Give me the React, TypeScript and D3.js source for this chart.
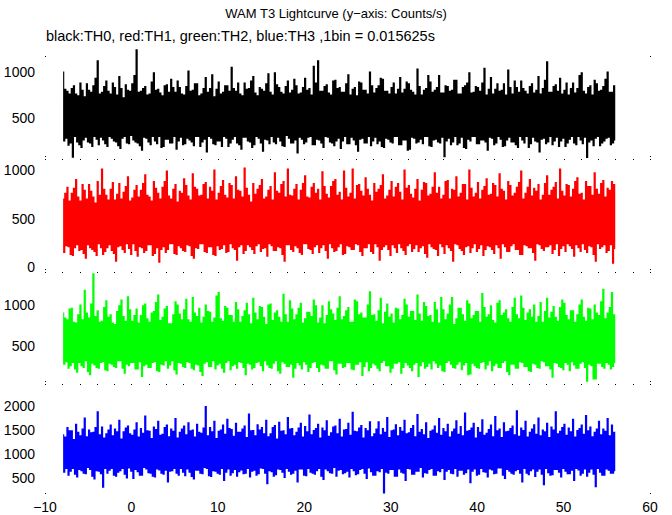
import React from 'react';
import * as d3 from 'd3';

const W = 672;
const H = 515;
const titleText = 'WAM T3 Lightcurve (y\u2212axis: Counts/s)';
const subtitleText = 'black:TH0, red:TH1, green:TH2, blue:TH3 ,1bin = 0.015625s';

// time of first displayed sample (s) and spacing of displayed samples (s)
const T0 = -7.9;
const DT = 0.125;

const xTicks = [-10, 0, 10, 20, 30, 40, 50, 60];
const xMinorStep = 2;

// Counts/s, alternating upper / lower excursions
const th0 = [
  1000, 250, 810, 280, 790, 205, 760, 230, 820, 75, 850, 300, 760, 240, 740, 210,
  880, 180, 800, 260, 730, 290, 870, 240, 800, 230, 780, 190, 850, 300, 930, 270,
  1120, 210, 760, 290, 780, 260, 840, 220, 900, 190, 790, 300, 760, 280, 880, 250,
  830, 240, 750, 200, 950, 170, 820, 280, 720, 300, 860, 230, 800, 220, 790, 310,
  870, 260, 960, 240, 1240, 230, 780, 200, 790, 150, 820, 290, 840, 280, 750, 240,
  760, 210, 890, 300, 990, 250, 800, 220, 810, 300, 770, 180, 740, 190, 850, 270,
  860, 270, 780, 230, 920, 230, 830, 300, 780, 160, 900, 250, 830, 290, 760, 210,
  750, 220, 840, 280, 1010, 260, 790, 240, 800, 200, 870, 300, 870, 300, 740, 190,
  760, 240, 820, 270, 940, 130, 780, 300, 820, 280, 970, 220, 730, 210, 810, 250,
  890, 250, 760, 190, 780, 300, 850, 280, 850, 190, 790, 230, 1050, 270, 820, 300,
  790, 230, 880, 210, 760, 160, 740, 290, 880, 290, 810, 250, 820, 240, 900, 180,
  950, 210, 770, 300, 740, 280, 830, 230, 810, 140, 790, 270, 870, 260, 980, 220,
  780, 300, 750, 240, 990, 220, 860, 290, 830, 250, 780, 200, 760, 190, 840, 310,
  900, 280, 770, 230, 800, 230, 920, 260, 850, 120, 760, 290, 770, 270, 830, 220,
  930, 240, 800, 290, 820, 300, 750, 210, 1060, 210, 880, 270, 1120, 260, 790, 230,
  790, 180, 840, 300, 860, 290, 770, 240, 750, 230, 900, 200, 910, 250, 820, 280,
  830, 170, 780, 250, 780, 300, 870, 220, 970, 220, 750, 290, 810, 260, 830, 210,
  740, 140, 890, 270, 880, 280, 800, 230, 800, 230, 760, 300, 1000, 200, 850, 250,
  770, 290, 820, 220, 850, 250, 930, 190, 920, 180, 790, 280, 790, 270, 760, 240,
  830, 230, 880, 300, 760, 300, 810, 210, 940, 210, 770, 260, 810, 260, 890, 150,
  870, 160, 800, 290, 780, 280, 750, 230, 1030, 240, 840, 270, 750, 220, 800, 300,
  820, 300, 960, 200, 890, 190, 780, 260, 800, 270, 830, 240, 960, 230, 770, 290,
  770, 80, 850, 250, 840, 280, 790, 210, 800, 240, 910, 300, 910, 210, 760, 230,
  760, 290, 830, 180, 850, 170, 880, 270, 990, 250, 770, 300, 780, 300, 840, 220,
  830, 220, 790, 260, 880, 260, 1040, 240, 750, 150, 810, 290, 940, 280, 760, 210,
  810, 230, 870, 300, 790, 270, 800, 190, 870, 200, 750, 260, 1020, 290, 830, 240,
  760, 240, 900, 210, 830, 180, 780, 300, 900, 260, 820, 230, 790, 300, 760, 180,
  840, 220, 870, 290, 770, 250, 800, 240, 950, 130, 760, 270, 820, 280, 910, 220,
  1110, 240, 780, 300, 780, 210, 840, 250, 860, 290, 790, 190, 930, 250, 760, 280,
  800, 190, 880, 230, 750, 270, 820, 300, 880, 230, 770, 210, 820, 300, 960, 260,
  990, 220, 790, 290, 760, 70, 830, 240, 850, 260, 750, 200, 910, 280, 870, 300,
  790, 200, 800, 230, 840, 250, 920, 280, 1000, 290, 780, 210, 780, 230, 850, 260,
];

const th1 = [
  700, 150, 760, 220, 820, 210, 680, 130, 760, 120, 810, 200, 900, 230, 720, 170,
  680, 180, 850, 140, 790, 90, 700, 230, 850, 200, 780, 180, 720, 160, 660, 120,
  880, 240, 740, 200, 1010, 130, 800, 160, 740, 200, 690, 230, 800, 170, 870, 140,
  690, 60, 750, 210, 860, 220, 700, 180, 770, 150, 830, 240, 930, 190, 680, 130,
  710, 240, 790, 170, 840, 110, 720, 210, 790, 200, 860, 150, 950, 170, 740, 230,
  720, 230, 680, 120, 880, 140, 810, 200, 760, 50, 700, 180, 820, 210, 880, 150,
  990, 180, 730, 240, 700, 240, 800, 140, 850, 130, 670, 220, 780, 200, 760, 170,
  910, 160, 840, 230, 730, 220, 690, 120, 960, 90, 820, 200, 800, 190, 730, 240,
  740, 240, 850, 160, 870, 150, 700, 210, 820, 210, 780, 130, 1000, 120, 690, 220,
  760, 180, 830, 190, 890, 230, 740, 150, 710, 160, 860, 240, 840, 200, 700, 180,
  930, 70, 790, 210, 780, 230, 720, 140, 1020, 170, 810, 230, 740, 210, 670, 180,
  860, 140, 750, 220, 800, 240, 840, 160, 900, 190, 700, 200, 720, 110, 790, 240,
  830, 220, 690, 170, 970, 170, 780, 210, 760, 200, 850, 130, 880, 60, 720, 230,
  1010, 230, 740, 180, 730, 160, 800, 220, 850, 200, 690, 150, 790, 130, 860, 240,
  940, 240, 720, 190, 710, 180, 820, 140, 860, 210, 760, 230, 800, 150, 690, 200,
  980, 230, 830, 170, 750, 90, 710, 240, 830, 200, 880, 160, 900, 170, 740, 210,
  770, 240, 690, 130, 990, 140, 810, 220, 720, 210, 760, 180, 1010, 180, 700, 240,
  840, 230, 850, 160, 780, 120, 730, 200, 920, 200, 800, 240, 740, 160, 680, 140,
  860, 240, 770, 210, 800, 70, 840, 180, 950, 210, 700, 230, 730, 180, 790, 120,
  880, 230, 720, 200, 820, 150, 860, 240, 770, 200, 690, 170, 1000, 130, 810, 220,
  840, 240, 750, 160, 710, 190, 800, 230, 900, 160, 680, 200, 790, 220, 870, 140,
  860, 100, 730, 240, 750, 210, 820, 190, 970, 180, 760, 120, 820, 240, 700, 210,
  740, 140, 880, 230, 890, 200, 700, 170, 800, 60, 790, 240, 930, 230, 720, 190,
  760, 170, 850, 130, 850, 210, 690, 220, 1000, 150, 810, 200, 720, 240, 760, 160,
  870, 190, 700, 230, 790, 120, 830, 180, 910, 220, 740, 210, 750, 180, 860, 140,
  840, 230, 720, 200, 960, 90, 800, 240, 780, 210, 690, 160, 880, 160, 840, 220,
  730, 240, 760, 180, 820, 180, 870, 130, 990, 130, 700, 230, 760, 220, 820, 200,
  900, 200, 730, 150, 810, 70, 780, 240, 850, 230, 690, 190, 740, 170, 860, 210,
  940, 210, 740, 230, 790, 140, 820, 180, 870, 240, 700, 120, 1010, 190, 780, 220,
  730, 160, 850, 240, 840, 220, 720, 190, 800, 110, 880, 230, 920, 200, 750, 160,
  760, 240, 690, 180, 880, 150, 830, 220, 830, 210, 740, 130, 970, 60, 800, 240,
  750, 190, 860, 210, 890, 230, 720, 150, 810, 170, 790, 230, 880, 40, 850, 190,
];

const th2 = [
  900, 280, 840, 310, 820, 230, 950, 260, 960, 300, 790, 220, 780, 180, 880, 300,
  1000, 260, 820, 240, 1180, 320, 900, 190, 840, 150, 1010, 290, 1380, 270, 860, 240,
  930, 230, 790, 300, 800, 310, 970, 210, 1050, 200, 850, 290, 880, 280, 780, 250,
  760, 240, 920, 320, 990, 320, 1060, 230, 860, 170, 800, 280, 1100, 260, 940, 300,
  800, 300, 870, 220, 950, 220, 780, 310, 870, 130, 990, 260, 1010, 280, 830, 240,
  790, 240, 900, 300, 920, 310, 1030, 200, 1120, 190, 810, 280, 850, 270, 950, 320,
  980, 230, 770, 270, 770, 320, 880, 210, 1040, 160, 1000, 300, 890, 290, 820, 250,
  940, 240, 1070, 310, 820, 300, 790, 230, 1090, 210, 900, 280, 860, 270, 960, 190,
  780, 140, 850, 290, 1000, 310, 920, 250, 910, 250, 790, 320, 840, 220, 1110, 270,
  1150, 290, 830, 230, 800, 180, 980, 300, 960, 320, 870, 210, 870, 260, 790, 280,
  1030, 230, 940, 310, 790, 300, 860, 240, 930, 150, 1020, 290, 880, 280, 770, 220,
  1080, 240, 900, 300, 820, 310, 980, 260, 970, 200, 850, 320, 760, 270, 1000, 240,
  1010, 230, 810, 290, 900, 320, 930, 200, 850, 170, 790, 310, 1130, 290, 880, 250,
  790, 250, 1050, 280, 950, 120, 820, 230, 880, 300, 960, 270, 1020, 220, 780, 310,
  830, 280, 910, 190, 910, 240, 860, 300, 1060, 310, 990, 240, 780, 190, 840, 280,
  990, 270, 770, 230, 870, 230, 1040, 320, 940, 320, 890, 210, 810, 160, 960, 290,
  1100, 290, 820, 240, 860, 250, 930, 300, 970, 300, 790, 220, 790, 210, 1060, 280,
  1040, 280, 880, 310, 900, 140, 840, 250, 840, 310, 1000, 200, 1160, 240, 870, 290,
  880, 270, 800, 230, 930, 200, 1080, 300, 770, 320, 910, 260, 1010, 260, 850, 180,
  890, 230, 780, 290, 960, 290, 950, 310, 820, 170, 870, 240, 1070, 300, 1000, 270,
  850, 240, 920, 200, 920, 280, 810, 300, 1120, 130, 890, 260, 800, 310, 1030, 230,
  980, 250, 860, 290, 870, 220, 790, 320, 1030, 290, 940, 240, 780, 270, 1090, 200,
  940, 190, 820, 300, 890, 320, 1000, 280, 1090, 240, 760, 230, 830, 280, 960, 310,
  960, 210, 880, 270, 800, 300, 1050, 150, 1010, 160, 830, 290, 870, 260, 920, 240,
  920, 230, 790, 300, 1140, 310, 970, 220, 850, 270, 880, 320, 990, 200, 810, 260,
  780, 290, 1020, 240, 1050, 240, 870, 300, 900, 320, 940, 190, 830, 150, 790, 280,
  970, 280, 1080, 230, 880, 230, 830, 310, 1110, 300, 960, 250, 810, 250, 900, 200,
  940, 190, 850, 290, 1000, 280, 790, 240, 860, 230, 1030, 320, 790, 310, 920, 260,
  1080, 260, 840, 220, 910, 120, 980, 300, 850, 290, 800, 250, 970, 240, 1060, 210,
  1020, 300, 870, 280, 820, 200, 930, 310, 930, 270, 790, 230, 880, 230, 1000, 290,
  1060, 310, 850, 240, 800, 70, 960, 280, 950, 260, 820, 100, 1000, 100, 900, 290,
  870, 290, 1040, 250, 1190, 230, 830, 300, 900, 280, 970, 220, 1150, 250, 880, 300,
];

const th3 = [
  1400, 620, 1350, 700, 1550, 560, 1480, 640, 1480, 700, 1300, 580, 1620, 520, 1450, 680,
  1380, 650, 1520, 600, 1750, 590, 1360, 720, 1500, 680, 1440, 540, 1450, 480, 1550, 650,
  1880, 640, 1400, 590, 1560, 310, 1330, 700, 1420, 600, 1500, 660, 1600, 700, 1380, 560,
  1520, 540, 1460, 620, 1700, 650, 1310, 700, 1460, 580, 1540, 500, 1580, 710, 1420, 640,
  1390, 490, 1500, 680, 1650, 630, 1350, 560, 1530, 560, 1430, 720, 1790, 690, 1480, 610,
  1470, 600, 1320, 540, 1560, 520, 1510, 690, 1680, 670, 1390, 600, 1410, 580, 1550, 660,
  1600, 420, 1360, 640, 1520, 650, 1470, 700, 1740, 600, 1330, 560, 1450, 700, 1520, 620,
  1580, 550, 1400, 690, 1650, 620, 1480, 530, 1500, 480, 1350, 660, 1620, 660, 1450, 600,
  1430, 590, 1540, 720, 1990, 700, 1380, 550, 1550, 530, 1460, 650, 1680, 640, 1320, 600,
  1470, 580, 1500, 700, 1600, 450, 1410, 620, 1720, 690, 1530, 560, 1510, 610, 1370, 680,
  1640, 540, 1450, 630, 1450, 670, 1520, 590, 1580, 600, 1340, 700, 1830, 520, 1480, 640,
  1490, 660, 1380, 560, 1610, 590, 1500, 710, 1550, 700, 1420, 600, 1700, 380, 1360, 650,
  1420, 630, 1550, 540, 1590, 570, 1310, 690, 1660, 680, 1470, 620, 1480, 510, 1400, 700,
  1760, 640, 1520, 580, 1530, 600, 1380, 660, 1450, 420, 1540, 690, 1640, 690, 1350, 560,
  1570, 550, 1460, 700, 1810, 620, 1400, 600, 1490, 580, 1530, 650, 1620, 700, 1330, 540,
  1540, 470, 1480, 690, 1690, 650, 1370, 610, 1440, 600, 1560, 720, 1580, 540, 1420, 660,
  1720, 680, 1350, 590, 1500, 610, 1510, 640, 1640, 520, 1390, 700, 1870, 650, 1470, 570,
  1460, 590, 1540, 680, 1590, 700, 1330, 600, 1530, 490, 1480, 710, 1670, 630, 1360, 560,
  1420, 560, 1520, 650, 1670, 630, 1400, 700, 1530, 190, 1450, 620, 1760, 600, 1340, 680,
  1480, 680, 1500, 540, 1610, 540, 1380, 690, 1550, 620, 1470, 600, 1700, 450, 1420, 700,
  1440, 690, 1530, 580, 1590, 580, 1360, 640, 1820, 640, 1450, 720, 1510, 520, 1400, 610,
  1650, 600, 1320, 680, 1470, 700, 1500, 560, 1580, 560, 1430, 650, 1740, 630, 1390, 700,
  1530, 470, 1460, 640, 1620, 680, 1350, 600, 1460, 590, 1520, 700, 1690, 540, 1410, 660,
  1570, 660, 1380, 580, 1850, 610, 1470, 690, 1490, 400, 1540, 640, 1640, 690, 1330, 560,
  1550, 580, 1450, 700, 1710, 630, 1390, 620, 1430, 520, 1510, 690, 1600, 670, 1360, 590,
  1780, 600, 1480, 710, 1520, 710, 1340, 560, 1650, 490, 1460, 680, 1470, 640, 1530, 600,
  1580, 580, 1400, 650, 1900, 680, 1370, 600, 1540, 420, 1490, 700, 1680, 600, 1350, 570,
  1450, 650, 1520, 690, 1610, 530, 1410, 640, 1750, 690, 1380, 580, 1500, 360, 1460, 700,
  1640, 610, 1340, 560, 1560, 570, 1500, 680, 1880, 680, 1420, 620, 1470, 520, 1550, 700,
  1620, 640, 1390, 590, 1540, 590, 1460, 660, 1720, 450, 1350, 700, 1490, 670, 1530, 560,
  1600, 600, 1410, 690, 1800, 540, 1480, 620, 1560, 690, 1360, 580, 1450, 320, 1520, 700,
  1680, 620, 1400, 560, 1520, 560, 1470, 690, 1740, 660, 1380, 600, 1600, 600, 1450, 650,
];

const th0Ticks = [500, 1000];
const th1Ticks = [0, 500, 1000];
const th2Ticks = [500, 1000];
const th3Ticks = [500, 1000, 1500, 2000];

const th0Domain = [54, 1293];
const th1Domain = [-52, 1103];
const th2Domain = [49, 1390];
const th3Domain = [187, 2458];

const FONT = '"Liberation Sans", Arial, Helvetica, sans-serif';

export default function App() {
  const x = d3.scaleLinear().domain([-10, 60]).range([45, 650]);

  const panels = [
    { values: th0, color: '#000000', ticks: th0Ticks, domain: th0Domain, top: 45, bottom: 159 },
    { values: th1, color: '#ff0000', ticks: th1Ticks, domain: th1Domain, top: 160, bottom: 272 },
    { values: th2, color: '#00ff00', ticks: th2Ticks, domain: th2Domain, top: 273, bottom: 383 },
    { values: th3, color: '#0000ff', ticks: th3Ticks, domain: th3Domain, top: 384, bottom: 493 },
  ];

  const minor = d3.range(-10, 60 + 0.001, xMinorStep);
  const boundaries = [159, 272, 384];

  return (
    <svg width={W} height={H} style={{ position: 'absolute', left: 0, top: 0, background: '#fff' }}>
      <rect x={0} y={0} width={W} height={H} fill="#fff" />
      <text x={336} y={18} textAnchor="middle" fontFamily={FONT} fontSize={13} fill="#000">
        {titleText}
      </text>
      <text x={46} y={41} textAnchor="start" fontFamily={FONT} fontSize={14.5} fill="#000">
        {subtitleText}
      </text>
      {panels.map((p, k) => {
        const y = d3.scaleLinear().domain(p.domain).range([p.bottom, p.top]);
        const line = d3
          .line<number>()
          .x((_, i) => x(T0 + i * DT))
          .y((v) => y(v))
          .curve(d3.curveStep);
        return (
          <g key={k}>
            <path d={line(p.values) || ''} fill="none" stroke={p.color} strokeWidth={1.15} />
            {p.ticks.map((t) => (
              <text
                key={t}
                x={35}
                y={y(t)}
                dy="0.36em"
                textAnchor="end"
                fontFamily={FONT}
                fontSize={14}
                fill="#000"
              >
                {t}
              </text>
            ))}
          </g>
        );
      })}
      {boundaries.map((by) => (
        <g key={by}>
          {minor.map((t) => (
            <rect key={t} x={Math.round(x(t))} y={by} width={1} height={1} fill="#000" />
          ))}
          <rect x={Math.round(x(-10))} y={by - 3} width={1} height={1} fill="#000" />
          <rect x={Math.round(x(60))} y={by - 3} width={1} height={1} fill="#000" />
        </g>
      ))}
      {[56, 493].map((cy) => (
        <g key={cy}>
          <rect x={Math.round(x(-10))} y={cy} width={1} height={1} fill="#000" />
          <rect x={Math.round(x(60))} y={cy} width={1} height={1} fill="#000" />
        </g>
      ))}
      {xTicks.map((t) => (
        <text
          key={t}
          x={x(t)}
          y={512}
          textAnchor="middle"
          fontFamily={FONT}
          fontSize={14}
          fill="#000"
        >
          {t < 0 ? '\u2212' + Math.abs(t) : String(t)}
        </text>
      ))}
    </svg>
  );
}
